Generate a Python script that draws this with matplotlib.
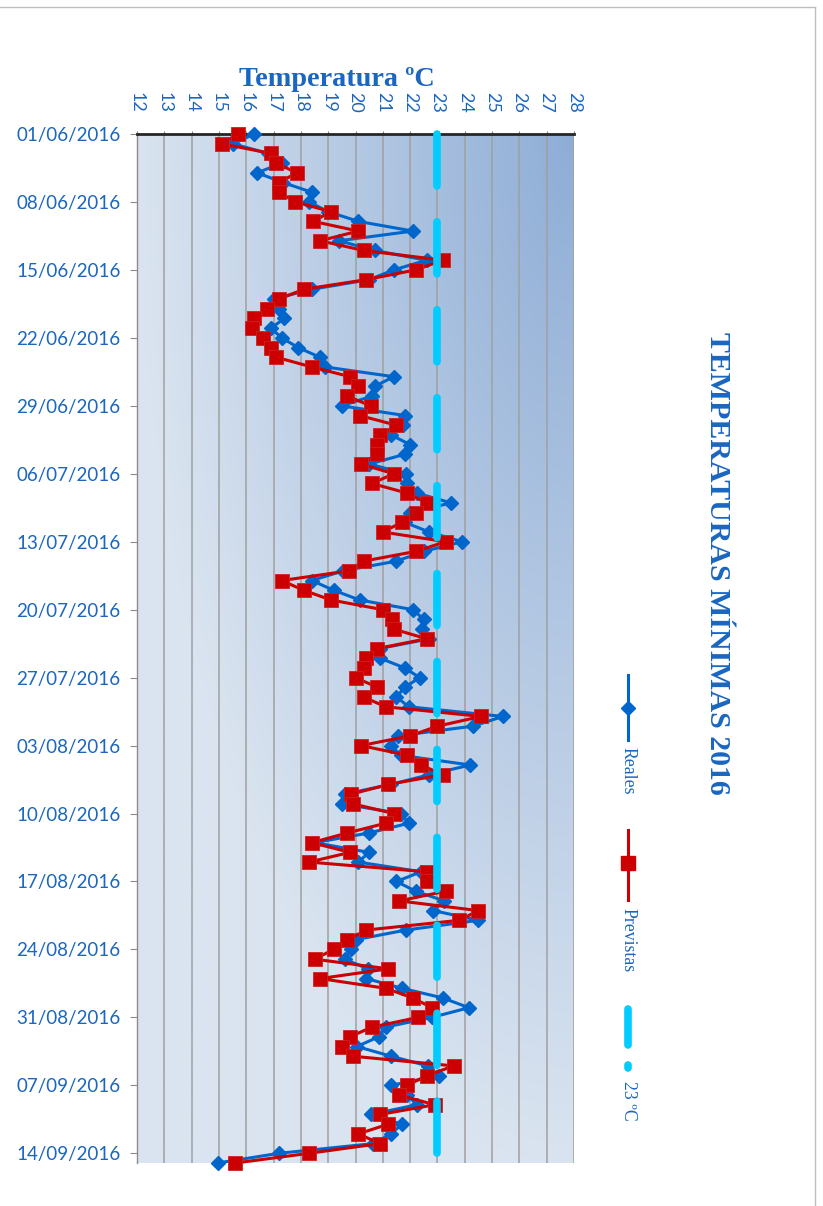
import numpy as np
import pandas as pd
import matplotlib
matplotlib.use("Agg")
import matplotlib.pyplot as plt
from matplotlib.lines import Line2D
from matplotlib.colors import to_rgb

plt.rcParams["lines.scale_dashes"] = False

# ---- data -------------------------------------------------------------
fechas = pd.date_range("2016-06-01", "2016-09-15", freq="D")

reales = [16.3, 15.5, 16.8, 17.3, 16.4, 17.35, 18.4, 18.3, 19.0, 20.1,
          22.1, 19.4, 20.7, 22.6, 21.4, 20.5, 18.4, 17.0, 17.2, 17.4,
          16.9, 17.3, 17.9, 18.7, 18.9, 21.4, 20.7, 20.6, 19.5, 21.8,
          21.75, 21.3, 22.0, 21.8, 20.5, 21.85, 21.9, 22.25, 23.5, 22.0,
          21.8, 22.7, 23.9, 22.5, 21.5, 19.55, 18.4, 19.2, 20.15, 22.1,
          22.5, 22.45, 22.7, 20.9, 20.9, 21.8, 22.35, 21.8, 21.5, 21.95,
          25.4, 24.3, 21.55, 21.3, 21.65, 24.2, 22.7, 21.3, 19.6, 19.5,
          21.65, 21.95, 20.5, 18.5, 20.5, 20.1, 22.4, 21.5, 22.2, 23.25,
          22.85, 24.5, 21.85, 20.0, 19.85, 19.6, 20.45, 20.4, 21.7, 23.2,
          24.15, 22.8, 21.1, 20.85, 20.05, 21.3, 22.65, 23.05, 21.3, 21.9,
          22.25, 20.55, 21.7, 21.3, 20.65, 17.2, 14.95]

previstas = [15.7, 15.1, 16.9, 17.1, 17.85, 17.2, 17.2, 17.8, 19.1, 18.45,
             20.1, 18.7, 20.3, 23.2, 22.2, 20.4, 18.1, 17.2, 16.75, 16.3,
             16.2, 16.6, 16.9, 17.1, 18.4, 19.8, 20.1, 19.7, 20.55, 20.15,
             21.5, 20.9, 20.8, 20.8, 20.2, 21.4, 20.6, 21.9, 22.6, 22.2,
             21.7, 21.0, 23.3, 22.2, 20.3, 19.75, 17.3, 18.1, 19.1, 21.0,
             21.35, 21.4, 22.6, 20.8, 20.4, 20.3, 20.0, 20.8, 20.3, 21.1,
             24.6, 23.0, 22.0, 20.2, 21.9, 22.4, 23.2, 21.2, 19.85, 19.9,
             21.4, 21.1, 19.7, 18.4, 19.8, 18.3, 22.6, 22.6, 23.3, 21.6,
             24.5, 23.8, 20.4, 19.7, 19.2, 18.5, 21.2, 18.7, 21.1, 22.1,
             22.8, 22.3, 20.6, 19.8, 19.5, 19.9, 23.6, 22.6, 21.9, 21.6,
             22.9, 20.9, 21.2, 20.1, 20.9, 18.3, 15.6]

umbral = [23.0] * len(fechas)

temp_ticks = list(range(12, 29))
paso_fechas = 7

# ---- style ------------------------------------------------------------
AZUL_TXT = "#1A66C0"
AZUL = "#0066CC"
ROJO = "#CC0000"
CIAN = "#00CCFF"
W, H, DPI = 823, 1206, 100


def fx(px):
    return px / W


def fy(py):
    return 1 - py / H


fig = plt.figure(figsize=(W / DPI, H / DPI), dpi=DPI)
fig.patch.set_facecolor("white")

ax = fig.add_axes([fx(137), fy(1163), fx(574) - fx(137), fy(134) - fy(1163)])
idx = np.arange(len(fechas))
n_max = len(fechas) - 1

# plot-area gradient, darkest at the upper right corner
gx = np.linspace(0, 1, 300)
gy = np.linspace(0, 1, 600)
GX, GY = np.meshgrid(gx, gy)
t = np.clip(np.sqrt((1 - GX) ** 2 + GY ** 2), 0, 1)
c_dark = np.array(to_rgb("#8EADD6"))
c_light = np.array(to_rgb("#DAE4F0"))
img = c_dark + (c_light - c_dark) * t[..., None]
ax.imshow(img, extent=[12, 28, n_max, 0], origin="upper", aspect="auto",
          zorder=0, interpolation="bilinear")

ax.set_xlim(12, 28)
ax.set_ylim(n_max, 0)

# series
ax.plot(reales, idx, color=AZUL, lw=2.2, marker="D", ms=7.2,
        mec=AZUL, zorder=3, clip_on=False)
ax.plot(previstas, idx, color=ROJO, lw=2.2, marker="s", ms=10,
        mec="#D02020", mew=0.6, zorder=4, clip_on=False)
ax.plot(umbral, idx, color=CIAN, lw=5.5, dashes=(37.4, 25.9),
        dash_capstyle="round", solid_capstyle="round", zorder=5,
        clip_on=False)

# axes, grid and ticks
ax.set_axisbelow(True)
ax.grid(axis="x", color="#A0A0A0", lw=1.1)
ax.grid(axis="y", visible=False)
for s in ("right", "bottom"):
    ax.spines[s].set_visible(False)
ax.spines["top"].set_color("#262626")
ax.spines["top"].set_linewidth(2.0)
ax.spines["left"].set_color("#8C8C8C")
ax.spines["left"].set_linewidth(1.0)

ax.xaxis.tick_top()
ax.set_xticks(temp_ticks)
ax.set_xticklabels([str(v) for v in temp_ticks], rotation=-90,
                   family="Lato", fontsize=13, color=AZUL_TXT)
ax.tick_params(axis="x", top=True, bottom=False, length=2.5,
               color="#808080", pad=13)

ax.set_yticks(idx[::paso_fechas])
ax.set_yticklabels([d.strftime("%d/%m/%Y") for d in fechas[::paso_fechas]],
                   family="Lato", fontsize=13.5, color=AZUL_TXT)
ax.tick_params(axis="y", length=5, color="#8C8C8C", pad=7)

# axis title and chart title
fig.text(fx(337), fy(79), "Temperatura ºC", family="Liberation Serif",
         fontweight="bold", fontsize=20.3, color=AZUL_TXT,
         ha="center", va="center")
fig.text(fx(718), fy(563), "TEMPERATURAS MÍNIMAS 2016",
         family="Liberation Serif", fontweight="bold", fontsize=21.5,
         color=AZUL_TXT, rotation=-90, ha="center", va="center")

# legend, laid out vertically like the title
lx = fx(628)
fig.add_artist(Line2D([lx, lx], [fy(675), fy(740)], color=AZUL, lw=2.2,
                      transform=fig.transFigure))
fig.add_artist(Line2D([lx], [fy(708)], color=AZUL, marker="D", ms=7.2,
                      transform=fig.transFigure))
fig.text(lx, fy(771), "Reales", family="Liberation Serif", fontsize=12.8,
         color=AZUL_TXT, rotation=-90, ha="center", va="center")

fig.add_artist(Line2D([lx, lx], [fy(830), fy(900)], color=ROJO, lw=2.2,
                      transform=fig.transFigure))
fig.add_artist(Line2D([lx], [fy(863)], color=ROJO, marker="s", ms=10,
                      transform=fig.transFigure))
fig.text(lx, fy(940), "Previstas", family="Liberation Serif", fontsize=12.8,
         color=AZUL_TXT, rotation=-90, ha="center", va="center")

# dashed sample: one long dash followed by the start of the next one
fig.add_artist(Line2D([lx, lx], [fy(1009), fy(1045)], color=CIAN, lw=5.5,
                      solid_capstyle="round", transform=fig.transFigure))
fig.add_artist(Line2D([lx, lx], [fy(1065), fy(1068)], color=CIAN, lw=5.5,
                      solid_capstyle="round", transform=fig.transFigure))
fig.text(lx, fy(1101), "23 ºC", family="Liberation Serif", fontsize=12.8,
         color=AZUL_TXT, rotation=-90, ha="center", va="center")

# chart-area border
fig.add_artist(Line2D([0, fx(815)], [fy(7), fy(7)], color="#BFBFBF", lw=1,
                      transform=fig.transFigure))
fig.add_artist(Line2D([fx(815), fx(815)], [fy(7), 0], color="#BFBFBF", lw=1,
                      transform=fig.transFigure))

fig.savefig("out.png", dpi=DPI)
